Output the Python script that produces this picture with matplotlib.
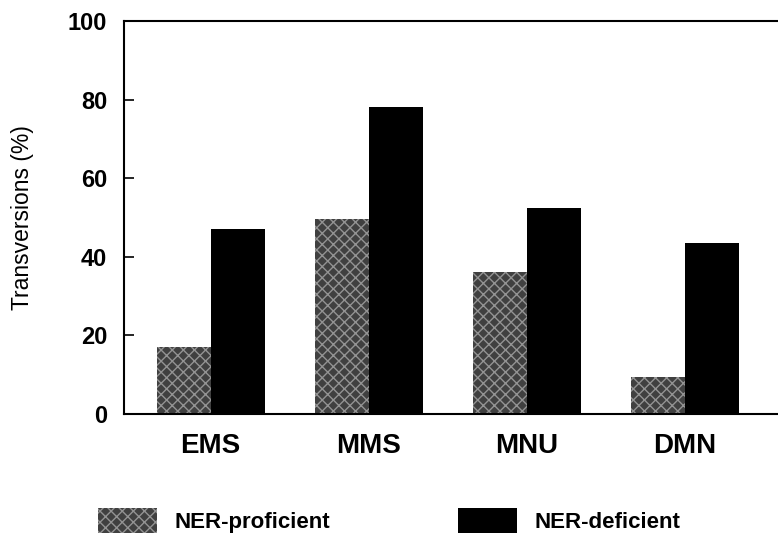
import matplotlib.pyplot as plt
import numpy as np

# data
categories = ['EMS', 'MMS', 'MNU', 'DMN']
proficient = [17, 49.5, 36, 9.5]
deficient = [47, 78, 52.5, 43.5]
yticks = [0, 20, 40, 60, 80, 100]

plt.rcParams['font.family'] = ['Liberation Sans', 'DejaVu Sans']

fig = plt.figure(figsize=(7.78, 5.39), dpi=100)
ax = fig.add_axes([0.159, 0.232, 0.841, 0.729])

x = np.arange(len(categories))
w = 0.342
ax.bar(x - w / 2, proficient, w, facecolor='#404040', edgecolor='#939393',
       hatch='xxx', linewidth=0, label='NER-proficient')
ax.bar(x + w / 2, deficient, w, color='black', linewidth=0, label='NER-deficient')

ax.set_xlim(-0.55, 3.59)
ax.set_ylim(0, 100)
ax.set_yticks(yticks)
ax.set_xticks(x)
ax.set_xticklabels(categories, fontsize=20, fontweight='bold')
ax.tick_params(axis='x', length=0, pad=14)
ax.tick_params(axis='y', direction='in', length=7, width=1.2, pad=12, labelsize=17)
for t in ax.get_yticklabels():
    t.set_fontweight('bold')
ax.set_ylabel('Transversions (%)', fontsize=16.5, labelpad=24)

for s in ['left', 'bottom', 'top']:
    ax.spines[s].set_linewidth(1.5)
ax.spines['right'].set_visible(False)

fig.legend(loc='center left', bbox_to_anchor=(0.126, 0.034), ncol=2, frameon=False,
           prop={'size': 16, 'weight': 'bold'}, handlelength=2.65, handleheight=1.3,
           handletextpad=0.8, columnspacing=5.75, borderaxespad=0, borderpad=0)

plt.savefig('out.png', dpi=100)
